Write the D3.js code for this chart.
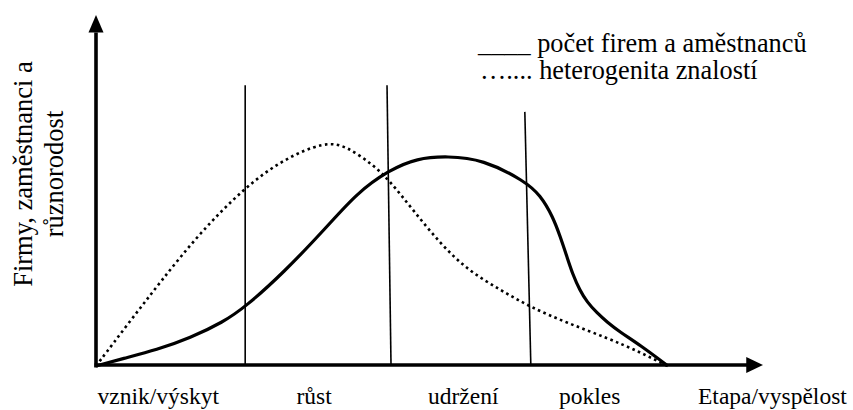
<!DOCTYPE html>
<html>
<head>
<meta charset="utf-8">
<script src="https://cdn.jsdelivr.net/npm/d3@7"></script>
<style>
  html, body { margin: 0; padding: 0; background: #fff; }
  #chart { width: 853px; height: 410px; }
</style>
</head>
<body>
<div id="chart"></div>
<script>
// Data (maturity 0-100 on x, level 0-100 on y)
const stageLabels = ["vznik/výskyt", "růst", "udržení", "pokles"];
const stageCenters = [9.3, 32.6, 54.9, 73.8];
const dividerTopX = [22.3, 43.5, 64.1];
const dividerBottomX = [22.3, 44.1, 65.0];
const dividerTopY = [80, 80, 72.4];

const firmsX = [0, 4.0, 9.1, 14.1, 19.0, 22.3, 28.0, 34.5, 39.0, 43.8, 48.0, 52.5, 57.8, 64.1, 66.4, 68.3, 69.4, 70.4, 71.3, 72.3, 73.4, 74.9, 76.4, 78.3, 81.3, 85.5];
const firmsY = [0, 2.1, 4.6, 8.0, 12.5, 16.8, 26.5, 39.6, 49.3, 55.8, 59.2, 59.8, 58.9, 52.7, 48.7, 42.5, 36.8, 31.1, 25.9, 21.7, 18.2, 15.1, 12.5, 9.7, 6.0, 0];

const knowX = [0, 5.1, 9.6, 15.5, 22.3, 28.0, 34.2, 37.5, 41.4, 43.8, 47.4, 51.4, 55.5, 60.4, 64.9, 70.4, 76.4, 81.3, 85.4];
const knowY = [0, 12.8, 23.9, 37.9, 51.0, 58.9, 64.0, 62.6, 57.3, 53.0, 44.4, 35.0, 27.4, 21.7, 16.8, 12.3, 8.0, 4.0, 0];

const legendLines = ["____ počet firem a aměstnanců", "….... heterogenita znalostí"];
const yTitle = ["Firmy, zaměstnanci a", "různorodost"];
const xTitle = "Etapa/vyspělost";

const width = 853;
const height = 410;

const svg = d3
  .select("#chart")
  .append("svg")
  .attr("width", width)
  .attr("height", height)
  .attr("font-family", "Liberation Serif");

// Scales
const x = d3.scaleLinear().domain([0, 100]).range([96, 765]);
const y = d3.scaleLinear().domain([0, 100]).range([366, 15]);

// Stage dividers
svg
  .selectAll(".divider")
  .data(dividerTopX)
  .enter()
  .append("line")
  .attr("class", "divider")
  .attr("x1", (d) => x(d))
  .attr("y1", (d, i) => y(dividerTopY[i]))
  .attr("x2", (d, i) => x(dividerBottomX[i]))
  .attr("y2", y(0))
  .attr("stroke", "#000")
  .attr("stroke-width", 1.6);

// Curves
const line = d3
  .line()
  .x((d) => x(d[0]))
  .y((d) => y(d[1]))
  .curve(d3.curveBasis);

svg
  .append("path")
  .datum(knowX.map((d, i) => [d, knowY[i]]))
  .attr("d", line)
  .attr("fill", "none")
  .attr("stroke", "#000")
  .attr("stroke-width", 2.6)
  .attr("stroke-dasharray", "2.6,3.4");

svg
  .append("path")
  .datum(firmsX.map((d, i) => [d, firmsY[i]]))
  .attr("d", line)
  .attr("fill", "none")
  .attr("stroke", "#000")
  .attr("stroke-width", 3.2);

// Axes (arrows)
svg
  .append("line")
  .attr("x1", x(0))
  .attr("y1", y(0) + 1.5)
  .attr("x2", x(0))
  .attr("y2", y(95))
  .attr("stroke", "#000")
  .attr("stroke-width", 3.6);
svg
  .append("polygon")
  .attr("points", `${x(0)},${y(100)} ${x(0) - 7.5},${y(95)} ${x(0) + 7.5},${y(95)}`)
  .attr("fill", "#000");

svg
  .append("line")
  .attr("x1", x(0) - 1.5)
  .attr("y1", y(0) - 1)
  .attr("x2", x(97.5))
  .attr("y2", y(0) - 1)
  .attr("stroke", "#000")
  .attr("stroke-width", 3.6);
svg
  .append("polygon")
  .attr(
    "points",
    `${x(99.7)},${y(0) - 1} ${x(97.2)},${y(0) - 9} ${x(97.2)},${y(0) + 7}`
  )
  .attr("fill", "#000");

// Stage labels
svg
  .selectAll(".stage")
  .data(stageLabels)
  .enter()
  .append("text")
  .attr("class", "stage")
  .attr("x", (d, i) => x(stageCenters[i]))
  .attr("y", 404)
  .attr("text-anchor", "middle")
  .attr("font-size", "23.5px")
  .text((d) => d);

svg
  .append("text")
  .attr("x", 698)
  .attr("y", 404)
  .attr("font-size", "23.5px")
  .text(xTitle);

// Y title
svg
  .append("text")
  .attr("transform", "translate(32, 174) rotate(-90)")
  .attr("text-anchor", "middle")
  .attr("font-size", "26.5px")
  .selectAll("tspan")
  .data(yTitle)
  .enter()
  .append("tspan")
  .attr("x", 0)
  .attr("dy", (d, i) => (i === 0 ? 0 : 31))
  .text((d) => d);

// Legend
svg
  .selectAll(".legend")
  .data(legendLines)
  .enter()
  .append("text")
  .attr("class", "legend")
  .attr("x", (d, i) => (i === 0 ? 478 : 480))
  .attr("y", (d, i) => 51.5 + i * 27)
  .attr("font-size", "26.3px")
  .text((d) => d);
</script>
</body>
</html>
